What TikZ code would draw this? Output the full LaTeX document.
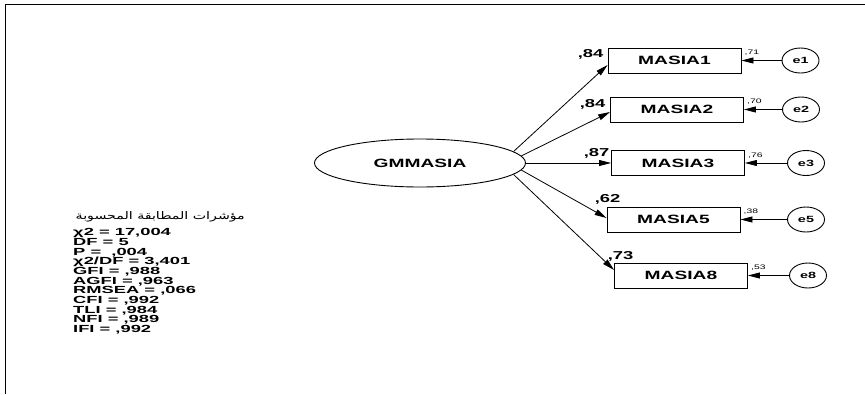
\documentclass[tikz,border=0pt]{standalone}
\usepackage{fontspec}
\setmainfont{Liberation Sans}
\newfontfamily\amosfont[FakeStretch=1.6]{Liberation Sans}
\newfontfamily\fitfont[FakeStretch=1.78]{Liberation Sans}
\newfontfamily\arabicfont[Script=Arabic,FakeStretch=1.35]{DejaVu Sans}
\TeXXeTstate=1
\usepackage{tikz}
\usetikzlibrary{arrows.meta,positioning,calc,shapes.geometric}

\begin{document}
\begin{tikzpicture}[x=1pt,y=-1pt,
  obsbox/.style={draw, line width=0.9pt, minimum width=133pt, minimum height=25pt,
    inner sep=0pt, font=\amosfont\fontsize{12}{13}\selectfont\bfseries},
  latent/.style={draw, ellipse, line width=0.9pt, minimum width=211pt, minimum height=48pt,
    inner sep=0pt, font=\amosfont\fontsize{12}{13}\selectfont\bfseries},
  errnode/.style={draw, ellipse, line width=0.9pt, minimum width=37pt, minimum height=25pt,
    inner sep=0pt, font=\amosfont\fontsize{9}{10}\selectfont\bfseries},
  loadarrow/.style={-{Triangle[length=12pt,width=6pt]}, line width=0.8pt},
  errarrow/.style={-{Triangle[length=12pt,width=6pt]}, line width=0.8pt},
  loadlabel/.style={anchor=base west, inner sep=0pt, font=\amosfont\fontsize{11.5}{13}\selectfont\bfseries},
  errlabel/.style={anchor=south west, inner sep=0pt, font=\amosfont\fontsize{6.5}{7}\selectfont}
]
\useasboundingbox (0,0) rectangle (865,394);
\draw[line width=0.9pt] (5,394) -- (5,4) -- (865,4);

\node[latent] (gm) at (420,163) {GMMASIA};

\node[obsbox] (m1) at (674.5,60.5) {MASIA1};
\node[obsbox] (m2) at (677,109.5) {MASIA2};
\node[obsbox] (m3) at (678,163) {MASIA3};
\node[obsbox] (m5) at (673.5,219.5) {MASIA5};
\node[obsbox] (m8) at (681,275.5) {MASIA8};

\node[errnode] (e1) at (800.5,60.5) {e1};
\node[errnode] (e2) at (801,109.5) {e2};
\node[errnode] (e3) at (806,163) {e3};
\node[errnode] (e5) at (806,219.5) {e5};
\node[errnode] (e8) at (808,275.5) {e8};

\draw[loadarrow] (gm.7) -- ([yshift=-4.5pt]m1.west);
\draw[loadarrow] (gm.4) -- ([yshift=-2.5pt]m2.west);
\draw[loadarrow] (gm.east) -- (m3.west);
\draw[loadarrow] (gm.-4.5) -- ([yshift=1.5pt]m5.west);
\draw[loadarrow] (gm.-7) -- ([yshift=5.5pt]m8.west);

\draw[errarrow] (e1) -- (m1.east);
\draw[errarrow] (e2) -- (m2.east);
\draw[errarrow] (e3) -- (m3.east);
\draw[errarrow] (e5) -- (m5.east);
\draw[errarrow] (e8) -- (m8.east);

\node[loadlabel] (l1) at ($(m1.north west)+(-30,10)$) {,84};
\node[loadlabel] (l2) at ($(m2.north west)+(-30.5,11)$) {,84};
\node[loadlabel] (l3) at ($(m3.north west)+(-27.5,6)$) {,87};
\node[loadlabel] (l5) at ($(m5.north west)+(-12,-4)$) {,62};
\node[loadlabel] (l8) at ($(m8.north west)+(-6.5,-3)$) {,73};

\node[errlabel] (r1) at ([shift={(3pt,-8pt)}]m1.north east) {,71};
\node[errlabel] (r2) at ([shift={(3pt,-8pt)}]m2.north east) {,70};
\node[errlabel] (r3) at ([shift={(3pt,-8pt)}]m3.north east) {,76};
\node[errlabel] (r5) at ([shift={(3pt,-8pt)}]m5.north east) {,38};
\node[errlabel] (r8) at ([shift={(3pt,-8pt)}]m8.north east) {,53};

\node[anchor=base east, inner sep=0pt, font=\arabicfont\fontsize{10.5}{11}\selectfont] (ttl) at (245,219)
  {\beginR مؤشرات المطابقة المحسوبة\endR};
\node[anchor=north west, inner sep=0pt, align=left,
  font=\fitfont\fontsize{10.3}{9.65}\selectfont\bfseries] (fit) at (73,228.5)
  {χ2 = 17,004\\DF = 5\\P =\ \ ,004\\χ2/DF = 3,401\\GFI = ,988\\AGFI = ,963\\RMSEA = ,066\\CFI = ,992\\TLI = ,984\\NFI = ,989\\IFI = ,992};
\end{tikzpicture}
\end{document}
